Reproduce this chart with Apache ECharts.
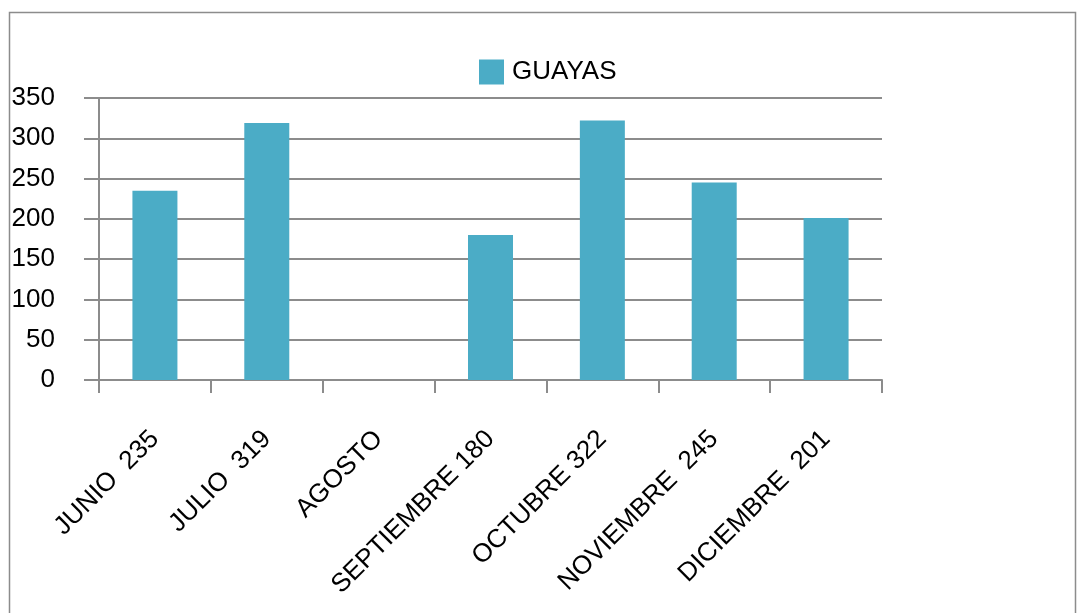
<!DOCTYPE html>
<html>
<head>
<meta charset="utf-8">
<script src="https://cdn.jsdelivr.net/npm/echarts@6/dist/echarts.min.js"></script>
<style>
html,body{margin:0;padding:0;background:#fff;}
#c{width:1077px;height:613px;}
</style>
</head>
<body>
<div id="c"></div>
<script>
const categories = ['JUNIO  235', 'JULIO  319', 'AGOSTO', 'SEPTIEMBRE 180', 'OCTUBRE 322', 'NOVIEMBRE  245', 'DICIEMBRE  201'];
const seriesName = 'GUAYAS';
const values = [235, 319, null, 180, 322, 245, 201];
const yTicks = [0, 50, 100, 150, 200, 250, 300, 350];

const chart = echarts.init(document.getElementById('c'));
const font = 'Liberation Sans, Arial, sans-serif';
const gray = '#8c8c8c';
chart.setOption({
  animation: false,
  backgroundColor: '#fff',
  graphic: [{
    type: 'rect',
    shape: {x: 9.5, y: 12.5, width: 1066, height: 620},
    style: {fill: 'none', stroke: gray, lineWidth: 1.5}
  }],
  legend: {
    left: 474, top: 54,
    icon: 'rect',
    itemWidth: 25, itemHeight: 25, itemGap: 10,
    textStyle: {fontFamily: font, fontSize: 26, color: '#000', padding: [0,0,0,3]},
    data: [seriesName]
  },
  grid: {left: 99, right: 195, top: 98, bottom: 233, containLabel: false},
  xAxis: {
    type: 'category',
    data: categories,
    boundaryGap: true,
    axisLine: {lineStyle: {color: gray, width: 2}},
    axisTick: {show: true, length: 13, alignWithLabel: false, lineStyle: {color: gray, width: 2}},
    axisLabel: {rotate: 45, margin: 55, interval: 0, fontFamily: font, fontSize: 26, color: '#000'}
  },
  yAxis: {
    type: 'value',
    min: yTicks[0], max: yTicks[yTicks.length - 1], interval: 50,
    axisLine: {show: true, lineStyle: {color: gray, width: 2}},
    axisTick: {show: true, length: 15, lineStyle: {color: gray, width: 2}},
    splitLine: {show: true, lineStyle: {color: gray, width: 2}},
    axisLabel: {margin: 44, fontFamily: font, fontSize: 26, color: '#000'}
  },
  series: [{
    name: seriesName,
    type: 'bar',
    data: values,
    barWidth: 45,
    itemStyle: {color: '#4BACC6'}
  }]
});
</script>
</body>
</html>
